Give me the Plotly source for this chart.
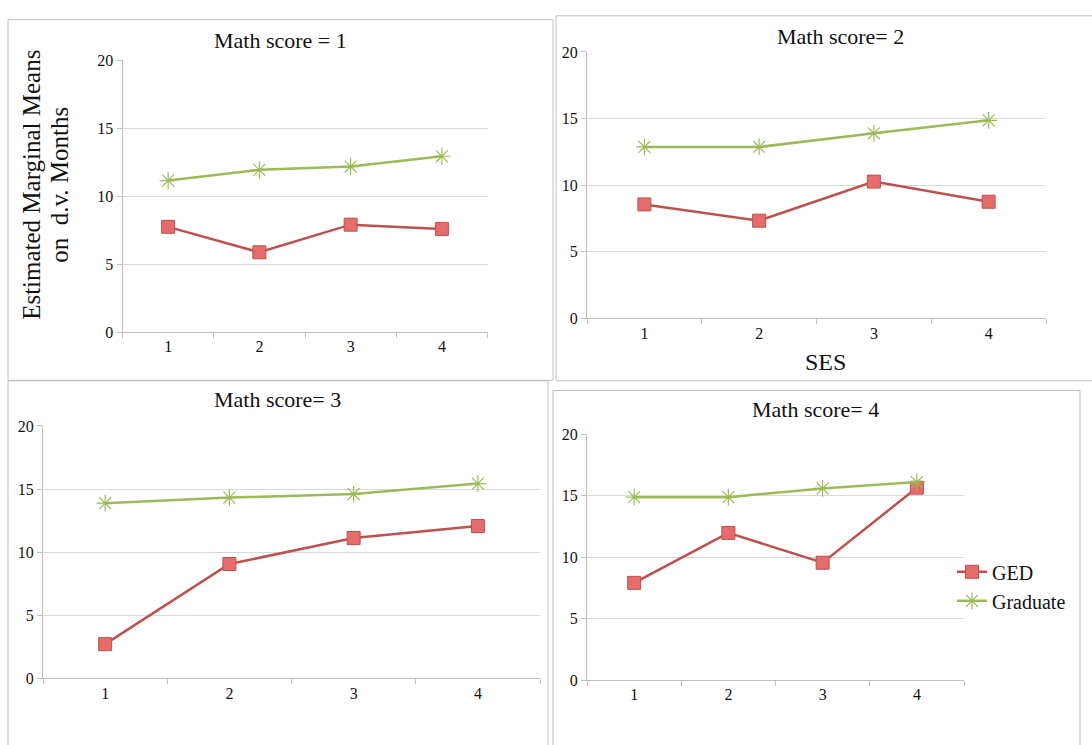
import plotly.graph_objects as go

W, H = 1092, 745
ses = ["1", "2", "3", "4"]
panel_titles = ["Math score = 1", "Math score= 2", "Math score= 3", "Math score= 4"]
ged = [
    [7.74, 5.87, 7.90, 7.59],
    [8.56, 7.34, 10.27, 8.76],
    [2.71, 9.06, 11.12, 12.07],
    [7.90, 11.96, 9.54, 15.64],
]
graduate = [
    [11.14, 11.93, 12.17, 12.93],
    [12.87, 12.87, 13.90, 14.87],
    [13.88, 14.32, 14.60, 15.43],
    [14.87, 14.87, 15.58, 16.10],
]
y_ticks = [0, 5, 10, 15, 20]

FONT = "Liberation Serif, Times New Roman, serif"
RED = "#C0504D"
RED_FILL = "#E46C6A"
GREEN = "#9BBB59"
GREEN_MK = "#BFDA98"

# plot area pixel boxes (x0, x1, ytop, ybottom)
areas = [
    (122.5, 487.5, 53.3, 331.7),
    (587, 1046, 45, 317.7),
    (43, 540, 427.7, 686),
    (587, 964, 436, 687.7),
]
title_pos = [(280, 33), (840, 29), (277, 401), (815, 411)]

def px(x):
    return x / W

def py(y):
    return 1 - y / H

fig = go.Figure()
layout = {}
for i in range(4):
    s = "" if i == 0 else str(i + 1)
    x0, x1, yt, yb = areas[i]
    fig.add_trace(go.Scatter(
        x=ses, y=ged[i], mode="lines+markers", name="GED",
        xaxis="x" + s, yaxis="y" + s, showlegend=(i == 3),
        line=dict(color=RED, width=2.5),
        marker=dict(symbol="square", size=13, color=RED_FILL,
                    line=dict(color=RED, width=1)),
    ))
    fig.add_trace(go.Scatter(
        x=ses, y=graduate[i], mode="lines+markers", name="Graduate",
        xaxis="x" + s, yaxis="y" + s, showlegend=(i == 3),
        line=dict(color=GREEN, width=2.5),
        marker=dict(symbol="asterisk-open", size=14,
                    line=dict(color=GREEN_MK, width=1.2)),
    ))
    layout["xaxis" + s] = dict(
        domain=[px(x0), px(x1)], anchor="y" + s, type="category",
        categoryorder="array", categoryarray=ses, range=[-0.5, len(ses) - 0.5],
        tickson="boundaries", ticks="outside", ticklen=5, tickcolor="#BFBFBF",
        showline=True, linecolor="#BFBFBF", linewidth=1, showgrid=False,
        tickfont=dict(family=FONT, size=16, color="#111"), zeroline=False,
        fixedrange=True,
    )
    layout["yaxis" + s] = dict(
        domain=[py(yb), py(yt)], anchor="x" + s, range=[0, 20],
        tickvals=y_ticks, ticks="outside", ticklen=5, tickcolor="#BFBFBF",
        showline=True, linecolor="#BFBFBF", linewidth=1,
        showgrid=True, gridcolor="#D9D9D9", gridwidth=1, zeroline=False,
        tickfont=dict(family=FONT, size=16, color="#111"), fixedrange=True,
    )

annotations = []
for (tx, ty), t in zip(title_pos, panel_titles):
    annotations.append(dict(text=t, x=px(tx), y=py(ty), xref="paper", yref="paper",
                            xanchor="center", yanchor="middle", showarrow=False,
                            font=dict(family=FONT, size=22, color="#111")))
annotations.append(dict(text="SES", x=px(825), y=py(362), xref="paper", yref="paper",
                        xanchor="center", yanchor="middle", showarrow=False,
                        font=dict(family=FONT, size=24, color="#111")))
annotations.append(dict(text="Estimated Marginal Means", x=px(32), y=py(181),
                        xref="paper", yref="paper", xanchor="center", yanchor="middle",
                        textangle=-90, showarrow=False,
                        font=dict(family=FONT, size=25, color="#111")))
annotations.append(dict(text="on  d.v. Months", x=px(60), y=py(181),
                        xref="paper", yref="paper", xanchor="center", yanchor="middle",
                        textangle=-90, showarrow=False,
                        font=dict(family=FONT, size=25, color="#111")))

border = dict(color="#BFBFBF", width=1)
shapes = [
    dict(type="rect", xref="paper", yref="paper", x0=px(8), x1=px(553), y0=py(381), y1=py(12), line=border),
    dict(type="path", xref="paper", yref="paper",
         path=f"M {px(1100)} {py(8)} L {px(556)} {py(8)} L {px(556)} {py(381.5)} L {px(1100)} {py(381.5)}",
         line=border),
    dict(type="path", xref="paper", yref="paper",
         path=f"M {px(8)} {py(760)} L {px(8)} {py(381.5)} L {px(548)} {py(381.5)} L {px(548)} {py(760)}",
         line=border),
    dict(type="path", xref="paper", yref="paper",
         path=f"M {px(553)} {py(760)} L {px(553)} {py(391.5)} L {px(1080)} {py(391.5)} L {px(1080)} {py(760)}",
         line=border),
]

fig.update_layout(
    width=W, height=H,
    margin=dict(l=0, r=0, t=0, b=0),
    paper_bgcolor="white", plot_bgcolor="white",
    annotations=annotations, shapes=shapes,
    legend=dict(x=px(952), y=py(557), xanchor="left", yanchor="top",
                bgcolor="rgba(0,0,0,0)", font=dict(family=FONT, size=20, color="#111"),
                tracegroupgap=0, itemsizing="trace"),
    **layout,
)

fig.write_html(
    "out.html",
    config={"displayModeBar": False},
    post_script="document.body.style.margin='0';document.body.style.overflow='hidden';",
)
